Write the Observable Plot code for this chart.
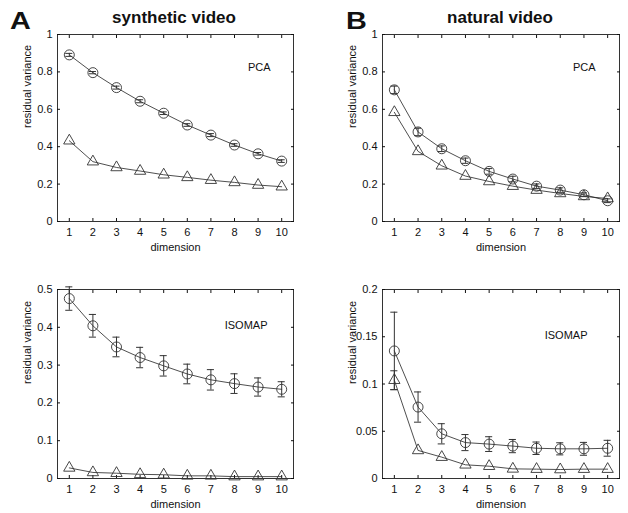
<!DOCTYPE html>
<html><head><meta charset="utf-8">
<script src="https://cdn.jsdelivr.net/npm/d3@7"></script>
<script src="https://cdn.jsdelivr.net/npm/@observablehq/plot@0.6"></script>
<style>
body{margin:0;background:#fff;}
#fig{position:relative;width:628px;height:513px;overflow:hidden;font-family:"Liberation Sans",Arial,sans-serif;color:#111;}
.panel{position:absolute;}
.letter{position:absolute;font-weight:bold;font-size:24px;line-height:1;transform:scaleX(1.2);transform-origin:left top;}
.title{position:absolute;font-size:17px;font-weight:bold;line-height:1;white-space:nowrap;transform:translateX(-50%);}
</style></head><body>
<div id="fig">
  <div class="letter" style="left:10px;top:9px">A</div>
  <div class="letter" style="left:346px;top:9px">B</div>
  <div class="title" style="left:174px;top:9px">synthetic video</div>
  <div class="title" style="left:500px;top:9px">natural video</div>
  <div class="panel" id="a1" style="left:0;top:0"></div>
  <div class="panel" id="b1" style="left:314px;top:0"></div>
  <div class="panel" id="a2" style="left:0;top:260px"></div>
  <div class="panel" id="b2" style="left:314px;top:260px"></div>
</div>
<script>
// ---- data ----
const dims = [1, 2, 3, 4, 5, 6, 7, 8, 9, 10];
const dimLabels = ["1", "2", "3", "4", "5", "6", "7", "8", "9", "10"];

const pcaTicks = [0, 0.2, 0.4, 0.6, 0.8, 1];
const pcaTickLabels = ["0", "0.2", "0.4", "0.6", "0.8", "1"];
const synIsoTicks = [0, 0.1, 0.2, 0.3, 0.4, 0.5];
const synIsoTickLabels = ["0", "0.1", "0.2", "0.3", "0.4", "0.5"];
const natIsoTicks = [0, 0.05, 0.1, 0.15, 0.2];
const natIsoTickLabels = ["0", "0.05", "0.1", "0.15", "0.2"];

// synthetic video, PCA
const synPcaCircle = [0.891, 0.796, 0.716, 0.643, 0.579, 0.516, 0.462, 0.409, 0.362, 0.323];
const synPcaCircleErr = [0.008, 0.006, 0.008, 0.008, 0.007, 0.007, 0.008, 0.007, 0.007, 0.007];
const synPcaTri = [0.432, 0.320, 0.289, 0.270, 0.250, 0.236, 0.221, 0.209, 0.195, 0.186];
const synPcaTriErr = [0, 0, 0, 0, 0, 0, 0, 0, 0, 0];

// natural video, PCA
const natPcaCircle = [0.704, 0.479, 0.389, 0.325, 0.268, 0.227, 0.189, 0.168, 0.143, 0.111];
const natPcaCircleErr = [0.02, 0.02, 0.015, 0.014, 0.015, 0.015, 0.012, 0.012, 0.01, 0.01];
const natPcaTri = [0.584, 0.375, 0.298, 0.243, 0.214, 0.189, 0.168, 0.150, 0.134, 0.123];
const natPcaTriErr = [0, 0, 0, 0, 0, 0, 0, 0, 0, 0];

// synthetic video, ISOMAP
const synIsoCircle = [0.476, 0.404, 0.348, 0.320, 0.298, 0.2765, 0.261, 0.251, 0.242, 0.236];
const synIsoCircleErr = [0.031, 0.030, 0.026, 0.027, 0.027, 0.026, 0.027, 0.026, 0.024, 0.020];
const synIsoTri = [0.028, 0.016, 0.014, 0.011, 0.010, 0.007, 0.007, 0.005, 0.005, 0.005];
const synIsoTriErr = [0, 0, 0, 0, 0, 0, 0, 0, 0, 0];

// natural video, ISOMAP
const natIsoCircle = [0.135, 0.0756, 0.0473, 0.038, 0.0364, 0.0343, 0.032, 0.0314, 0.0314, 0.032];
const natIsoCircleErr = [0.041, 0.016, 0.0107, 0.0085, 0.0078, 0.007, 0.0066, 0.0064, 0.0068, 0.0084];
const natIsoTri = [0.104, 0.0297, 0.0226, 0.0145, 0.013, 0.0102, 0.0099, 0.0095, 0.0099, 0.0099];
const natIsoTriErr = [0.010, 0, 0, 0, 0, 0, 0, 0, 0, 0];

// ---- drawing ----
const font = "'Liberation Sans', Arial, sans-serif";
function rows(vals, errs) {
  return dims.map((d, i) => ({dim: d, y: vals[i], lo: vals[i] - errs[i], hi: vals[i] + errs[i], e: errs[i]}));
}
function panel(o) {
  const circ = rows(o.circle, o.circleErr);
  const tri = rows(o.tri, o.triErr);
  const errs = circ.concat(tri).filter(d => d.e > 0);
  const cap = 0.15;
  const fmtY = d => o.yLabels[o.yTicks.findIndex(t => Math.abs(t - d) < 1e-9)];
  const fmtX = d => dimLabels[dims.indexOf(d)];
  return Plot.plot({
    width: o.width, height: o.height,
    marginLeft: o.ml, marginRight: o.mr, marginTop: o.mt, marginBottom: o.mb,
    style: {fontFamily: font, fontSize: "11px", color: "#111", background: "transparent", overflow: "visible"},
    x: {domain: [0.5, 10.5], label: null},
    y: {domain: o.yDomain, label: null},
    marks: [
      Plot.frame({stroke: "#333", strokeWidth: 1}),
      Plot.axisX({ticks: dims, tickSize: -3, tickPadding: 10, tickFormat: fmtX, label: null}),
      Plot.axisX({anchor: "top", ticks: dims, tickSize: -3, tickFormat: () => "", label: null}),
      Plot.axisY({ticks: o.yTicks, tickSize: -3, tickPadding: 8, tickFormat: fmtY, label: null}),
      Plot.axisY({anchor: "right", ticks: o.yTicks, tickSize: -3, tickFormat: () => "", label: null}),
      Plot.line(tri, {x: "dim", y: "y", stroke: "#222", strokeWidth: 0.8}),
      Plot.line(circ, {x: "dim", y: "y", stroke: "#222", strokeWidth: 0.8}),
      Plot.ruleX(errs, {x: "dim", y1: "lo", y2: "hi", stroke: "#333", strokeWidth: 1}),
      Plot.ruleY(errs, {y: "lo", x1: d => d.dim - cap, x2: d => d.dim + cap, stroke: "#333", strokeWidth: 1}),
      Plot.ruleY(errs, {y: "hi", x1: d => d.dim - cap, x2: d => d.dim + cap, stroke: "#333", strokeWidth: 1}),
      Plot.dot(circ, {x: "dim", y: "y", r: 5, stroke: "#333", strokeWidth: 0.9, fill: "none"}),
      Plot.dot(tri, {x: "dim", y: "y", r: 4.2, symbol: "triangle", stroke: "#333", strokeWidth: 0.9, fill: "none"}),
      Plot.text([o.method], {frameAnchor: "top-right", dx: o.ldx, dy: o.ldy, textAnchor: "end", fontSize: 11, fill: "#111"}),
      Plot.text(["residual variance"], {frameAnchor: "left", dx: -30, rotate: -90, fontSize: 11, fill: "#111"}),
      Plot.text(["dimension"], {frameAnchor: "bottom", dy: 29, fontSize: 11, fill: "#111"})
    ]
  });
}

document.getElementById("a1").append(panel({
  width: 314, height: 260, ml: 57, mr: 21, mt: 34, mb: 39,
  yDomain: [0, 1], yTicks: pcaTicks, yLabels: pcaTickLabels,
  circle: synPcaCircle, circleErr: synPcaCircleErr, tri: synPcaTri, triErr: synPcaTriErr,
  method: "PCA", ldx: -23, ldy: 29
}));
document.getElementById("b1").append(panel({
  width: 314, height: 260, ml: 68, mr: 9, mt: 34, mb: 39,
  yDomain: [0, 1], yTicks: pcaTicks, yLabels: pcaTickLabels,
  circle: natPcaCircle, circleErr: natPcaCircleErr, tri: natPcaTri, triErr: natPcaTriErr,
  method: "PCA", ldx: -24, ldy: 29
}));
document.getElementById("a2").append(panel({
  width: 314, height: 253, ml: 57, mr: 21, mt: 29, mb: 35,
  yDomain: [0, 0.5], yTicks: synIsoTicks, yLabels: synIsoTickLabels,
  circle: synIsoCircle, circleErr: synIsoCircleErr, tri: synIsoTri, triErr: synIsoTriErr,
  method: "ISOMAP", ldx: -26, ldy: 32
}));
document.getElementById("b2").append(panel({
  width: 314, height: 253, ml: 68, mr: 9, mt: 29, mb: 35,
  yDomain: [0, 0.2], yTicks: natIsoTicks, yLabels: natIsoTickLabels,
  circle: natIsoCircle, circleErr: natIsoCircleErr, tri: natIsoTri, triErr: natIsoTriErr,
  method: "ISOMAP", ldx: -32, ldy: 42
}));
</script>
</body></html>
